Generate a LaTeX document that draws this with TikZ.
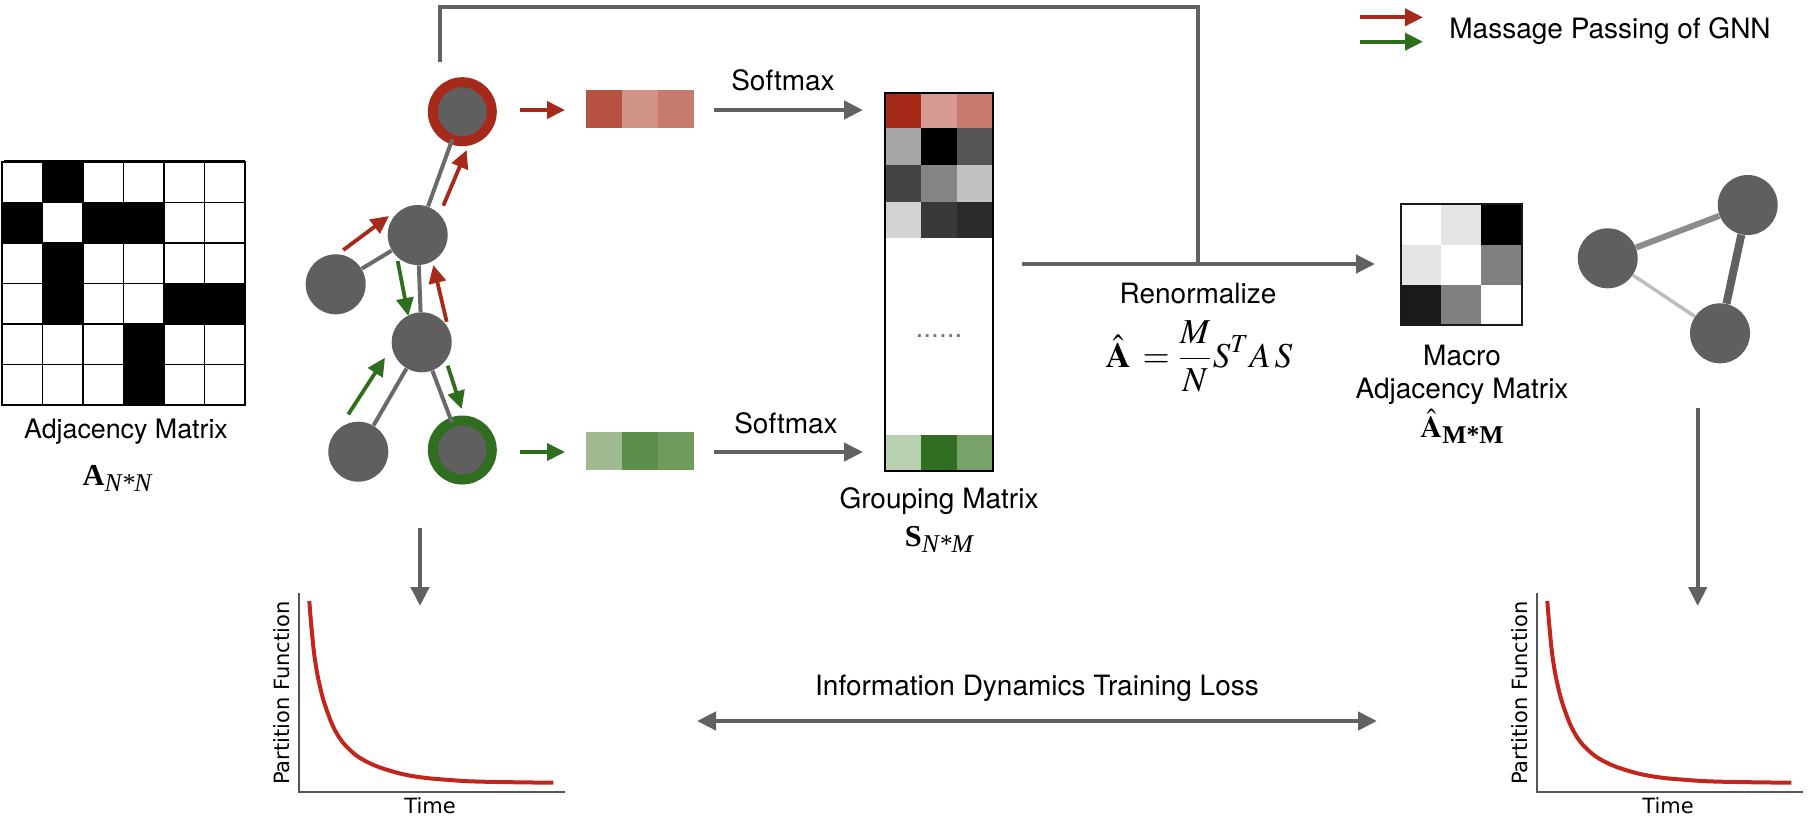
\documentclass[tikz,border=0pt]{standalone}
\usepackage{mathptmx}
\usepackage[no-math]{fontspec}
\setmainfont{TeX Gyre Heros}
\newfontfamily\plotfont{DejaVu Sans}
\newfontfamily\timesf{Liberation Serif}
\usepackage{graphicx}
\usetikzlibrary{arrows.meta}
\definecolor{ngray}{HTML}{5F5F5F}
\definecolor{egray}{HTML}{6A6A6A}
\definecolor{agray}{HTML}{616161}
\definecolor{mred}{HTML}{A52A1A}
\definecolor{mgreen}{HTML}{2F6E1F}
\definecolor{cred}{HTML}{C0261C}
\definecolor{axc}{HTML}{555555}
\definecolor{dotc}{HTML}{777777}
\definecolor{mgA}{HTML}{8C8C8C}
\definecolor{mgB}{HTML}{616161}
\definecolor{mgC}{HTML}{BDBDBD}
\newcommand\sublbl[1]{\raisebox{-3pt}{\fontsize{12.8pt}{13pt}\selectfont #1}}
\tikzset{
  gtip/.tip={Triangle[length=9.5pt,width=9pt]},
  ctip/.tip={Triangle[length=9pt,width=8.5pt]},
  gnode/.style={circle, fill=ngray, minimum size=30pt, inner sep=0pt},
  ringred/.style={gnode, minimum size=29.5pt, draw=mred, line width=5pt},
  ringgreen/.style={gnode, minimum size=29.5pt, draw=mgreen, line width=5pt},
  edgeg/.style={draw=egray, line width=2pt},
  grayarrow/.style={draw=agray, line width=2.2pt, -gtip},
  grayline/.style={draw=agray, line width=2.1pt},
  redarrow/.style={draw=mred, fill=mred, line width=1.9pt, -ctip},
  greenarrow/.style={draw=mgreen, fill=mgreen, line width=1.9pt, -ctip},
  lbl/.style={font=\fontsize{14pt}{16pt}\selectfont, inner sep=0pt, anchor=base},
  mlbl/.style={font=\fontsize{15.2pt}{17pt}\selectfont\timesf, inner sep=0pt, anchor=base},
  plbl/.style={font=\plotfont\fontsize{10.5pt}{12pt}\selectfont, inner sep=0pt},
  pfplot/.pic={
    \draw[draw=axc, line width=0.6pt] (0,-199) -- (0,0) -- (266,0);
    \draw[cred, line width=2pt] plot[smooth, tension=0.7] coordinates {(10.3,-191) (12.7,-162) (16,-132) (21,-105.3) (27.7,-82) (37.7,-58.7) (51,-42) (67.7,-30.3) (91,-21.3) (117.7,-15.3) (151,-12) (184.3,-10.3) (254.3,-9.3)};
    \node[plbl, rotate=90] (-pf) at (-17.3,-99) {Partition Function};
    \node[plbl, anchor=base] (-time) at (131,21) {Time};
  }
}
\begin{document}
\begin{tikzpicture}[x=0.5pt,y=-0.5pt]
\useasboundingbox (0,0) rectangle (1818,826);

% ---------- adjacency matrix
\foreach \c/\r in {1/0,0/1,2/1,3/1,1/2,1/3,4/3,5/3,3/4,3/5}
  \fill[black] ({2+\c*40.5},{162+\r*40.5}) rectangle ++(40.5,40.5);
\foreach \i in {0,...,6}{
  \draw[line width=0.8pt] ({2+\i*40.5},162) -- ++(0,243);
  \draw[line width=0.8pt] (2,{162+\i*40.5}) -- ++(243,0);
}
\draw[line width=1.3pt] (2,162) rectangle (245,405);
\draw[line width=1pt] (3.5,161) -- (245,161);
\node[lbl, font=\fontsize{13.4pt}{16pt}\selectfont] (adjlbl) at (126,438) {Adjacency Matrix};
\node[mlbl] (adjsym) at (117,485) {\textbf{A}\sublbl{\itshape N*N}};

% ---------- GNN graph
\node[ringred] (top) at (462.3,111.7) {};
\node[gnode] (n2) at (417.7,235) {};
\node[gnode] (nl) at (335.7,284.3) {};
\node[gnode] (nm) at (421.7,342.3) {};
\node[gnode] (nb) at (358.3,451.7) {};
\node[ringgreen] (ng) at (462.3,450) {};
\draw[edgeg, shorten >=-2.5pt] (n2) -- (top);
\draw[edgeg] (n2) -- (nl);
\draw[edgeg] (n2) -- (nm);
\draw[edgeg] (nm) -- (nb);
\draw[edgeg, shorten >=-2.5pt] (nm) -- (ng);

% message passing arrows
\coordinate (r1a) at (343.3,250); \coordinate (r1b) at (389,216);
\coordinate (r2a) at (443.3,205.7); \coordinate (r2b) at (466.7,150);
\coordinate (r3a) at (446.7,321.7); \coordinate (r3b) at (433.3,265);
\coordinate (g1a) at (397.7,261); \coordinate (g1b) at (408.3,316);
\coordinate (g2a) at (348.3,414.3); \coordinate (g2b) at (385,357.7);
\coordinate (g3a) at (447.7,365.7); \coordinate (g3b) at (461.7,409);
\draw[redarrow] (r1a) -- (r1b);
\draw[redarrow] (r2a) -- (r2b);
\draw[redarrow] (r3a) -- (r3b);
\draw[greenarrow] (g1a) -- (g1b);
\draw[greenarrow] (g2a) -- (g2b);
\draw[greenarrow] (g3a) -- (g3b);

% output arrows to vectors
\coordinate (hra) at (520,110); \coordinate (hrb) at (565,110);
\coordinate (hga) at (520,452); \coordinate (hgb) at (565,452);
\draw[redarrow] (hra) -- (hrb);
\draw[greenarrow] (hga) -- (hgb);

% vectors
\foreach \h [count=\k from 0] in {B55241,D09387,C77B6E}{
  \definecolor{tmpc}{HTML}{\h}
  \fill[tmpc] ({586+\k*36},90) rectangle ++(36,37.7);
}
\foreach \h [count=\k from 0] in {A0BB91,5C8D4A,709A5E}{
  \definecolor{tmpc}{HTML}{\h}
  \fill[tmpc] ({586+\k*36},432.3) rectangle ++(36,37.7);
}

% softmax arrows
\coordinate (s1a) at (714,110); \coordinate (s1b) at (863,110);
\coordinate (s2a) at (714,452); \coordinate (s2b) at (863,452);
\draw[grayarrow] (s1a) -- (s1b);
\draw[grayarrow] (s2a) -- (s2b);
\node[lbl] (sm1) at (783,90) {Softmax};
\node[lbl] (sm2) at (786,433) {Softmax};

% ---------- grouping matrix
\foreach \ry/\rh/\cols in {93.3/35/{A52A1A,D59A92,C77A6D},128.3/36.7/{A6A6A6,000000,555555},165/36.5/{444444,858585,C2C2C2},201.5/36/{D3D3D3,393939,2A2A2A},434.5/36.2/{B8CFB0,316E21,78A267}}{
  \foreach \h [count=\k from 0] in \cols {
    \definecolor{tmpc}{HTML}{\h}
    \fill[tmpc] ({885+\k*35.9},\ry) rectangle ++(35.9,\rh);
  }
}
\draw[black, line width=0.9pt] (885,93.3) rectangle (992.7,470.7);
\node[lbl, text=dotc] (gdots) at (939,337) {......};
\node[lbl] (gmlbl) at (939,508) {Grouping Matrix};
\node[mlbl] (gmsym) at (939,546) {\textbf{S}\sublbl{\itshape N*M}};

% ---------- renormalize
\coordinate (rna) at (1022,264);
\coordinate (rnb) at (1375,264);
\coordinate (fbjoin) at (1198,264);
\coordinate (fbstart) at (440,61.7);
\draw[grayarrow] (rna) -- (rnb);
\draw[grayline] (fbstart) -- (440,7.3) -| (fbjoin);
\node[lbl] (rnlbl) at (1198,303) {Renormalize};
\node[inner sep=0pt, anchor=base, font=\fontsize{17.5pt}{20pt}\selectfont] (formula) at (1199,367) {$\displaystyle \hat{\mathbf{A}}\,=\frac{M}{N}S^{T}A\,S$};

% ---------- macro adjacency matrix
\foreach \ry/\cols in {204.3/{FFFFFF,E4E4E4,000000},244.5/{E4E4E4,FFFFFF,808080},284.7/{1A1A1A,808080,FFFFFF}}{
  \foreach \h [count=\k from 0] in \cols {
    \definecolor{tmpc}{HTML}{\h}
    \fill[tmpc] ({1400.7+\k*40.33},\ry) rectangle ++(40.33,40.3);
  }
}
\draw[black!90, line width=1pt] (1400.7,204.3) rectangle (1521.7,325);
\node[lbl] (mmlbl1) at (1462,365) {Macro};
\node[lbl] (mmlbl2) at (1462,398) {Adjacency Matrix};
\node[inner sep=0pt, anchor=base, font=\fontsize{15.2pt}{17pt}\selectfont] (mmsym) at (1462,437) {$\hat{\mathbf{A}}$\sublbl{\timesf\bfseries M*M}};

% ---------- macro graph
\node[gnode] (ml) at (1607.7,258.3) {};
\node[gnode] (mt) at (1747.7,205) {};
\node[gnode] (mb) at (1720,333.3) {};
\draw[draw=mgA, line width=3pt] (ml) -- (mt);
\draw[draw=mgB, line width=4pt] (mt) -- (mb);
\draw[draw=mgC, line width=1.75pt] (ml) -- (mb);

% ---------- legend
\coordinate (lra) at (1360,17.3); \coordinate (lrb) at (1423,17.3);
\coordinate (lga) at (1360,41.7); \coordinate (lgb) at (1423,41.7);
\draw[redarrow] (lra) -- (lrb);
\draw[greenarrow] (lga) -- (lgb);
\node[lbl, anchor=base west] (leg) at (1449,38.3) {Massage Passing of GNN};

% ---------- down arrows and plots
\coordinate (dla) at (420,528); \coordinate (dlb) at (420,606);
\coordinate (dra) at (1697.7,408); \coordinate (drb) at (1697.7,606);
\draw[grayarrow] (dla) -- (dlb);
\draw[grayarrow] (dra) -- (drb);
\pic (pl) at (299,792) {pfplot};
\pic (pr) at (1537,792) {pfplot};

% ---------- loss
\coordinate (lossa) at (697,721); \coordinate (lossb) at (1377,721);
\draw[grayarrow, gtip-gtip] (lossa) -- (lossb);
\node[lbl] (losslbl) at (1037,695) {Information Dynamics Training Loss};
\end{tikzpicture}
\end{document}
